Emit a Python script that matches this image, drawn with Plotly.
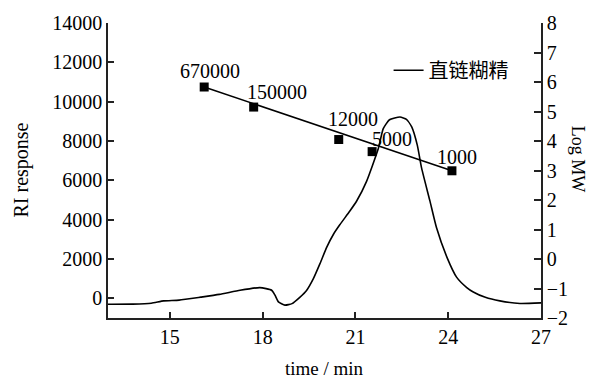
import plotly.graph_objects as go

# ---- data ----
ri_time = [13.0, 13.8, 14.4, 14.8, 15.3, 16.0, 16.6, 17.27, 17.91, 18.29, 18.4,
           18.51, 18.72, 18.95, 19.2, 19.42, 19.64, 19.85, 20.07, 20.29, 20.5,
           20.82, 21.04, 21.36, 21.74, 21.9, 22.1, 22.44, 22.65, 22.82, 23.0,
           23.14, 23.41, 23.62, 23.96, 24.27, 24.6, 24.81, 25.2, 25.67, 26.32, 27.0]
ri_response = [-300, -295, -250, -130, -90, 60, 200, 410, 545, 410, 160,
               -180, -345, -270, 50, 400, 1000, 1750, 2590, 3260, 3750,
               4440, 4950, 5950, 7620, 8630, 9080, 9220, 9100, 8715, 7790,
               6620, 4940, 3600, 2085, 1080, 550, 325, 50, -130, -260, -230]

std_time = [16.11, 17.71, 20.46, 21.54, 24.12]
std_logmw = [5.83, 5.15, 4.05, 3.64, 2.99]
std_labels = ["670000", "150000", "12000", "5000", "1000"]

fit_time = [16.11, 24.12]
fit_logmw = [5.83, 2.99]

legend_name = "直链糊精"

# label offsets in px (style only)
label_dx = [6, 23, 14, 20, 5]
label_dy = [16, 15, 21, 13, 14]

SERIF = "Liberation Serif"
CJK = "Noto Sans CJK SC"
AX = "#222222"

fig = go.Figure()
fig.add_trace(go.Scatter(x=ri_time, y=ri_response, mode="lines", name=legend_name,
                         line=dict(color="black", width=1.6, shape="spline", smoothing=0.5),
                         showlegend=True))
fig.add_trace(go.Scatter(x=fit_time, y=fit_logmw, mode="lines", yaxis="y2",
                         line=dict(color="black", width=1.5), showlegend=False))
fig.add_trace(go.Scatter(x=std_time, y=std_logmw, mode="markers", yaxis="y2",
                         marker=dict(symbol="square", size=9, color="black"),
                         showlegend=False))

annotations = []
for t, v, lab, dx, dy in zip(std_time, std_logmw, std_labels, label_dx, label_dy):
    annotations.append(dict(x=t, y=v, xref="x", yref="y2", text=lab, showarrow=False,
                            xanchor="center", yanchor="middle",
                            xshift=dx, yshift=dy, font=dict(family=SERIF, size=20, color="black")))

annotations += [
    dict(x=0, y=0.5, xref="paper", yref="paper", text="RI response", textangle=-90,
         showarrow=False, xanchor="center", yanchor="middle", xshift=-87,
         font=dict(family=SERIF, size=20, color="black")),
    dict(x=1, y=0.54, xref="paper", yref="paper", text="Log MW", textangle=90,
         showarrow=False, xanchor="center", yanchor="middle", xshift=37,
         font=dict(family=SERIF, size=18, color="black")),
    dict(x=0.5, y=0, xref="paper", yref="paper", text="time / min",
         showarrow=False, xanchor="center", yanchor="middle", yshift=-50,
         font=dict(family=SERIF, size=19, color="black")),
]

fig.update_layout(
    width=589, height=379,
    margin=dict(l=108, r=48, t=20, b=61),
    paper_bgcolor="white", plot_bgcolor="white",
    showlegend=True,
    legend=dict(x=0.648, y=0.84, xanchor="left", yanchor="middle",
                font=dict(family=CJK, size=20, color="black"),
                bgcolor="rgba(0,0,0,0)", borderwidth=0),
    xaxis=dict(range=[13, 27], tickvals=[15, 18, 21, 24, 27], ticks="inside", ticklen=6,
               tickcolor=AX, tickwidth=1.5, showline=True, linecolor=AX, linewidth=1.5,
               showgrid=False, zeroline=False, mirror=False,
               tickfont=dict(family=SERIF, size=20, color="black")),
    yaxis=dict(range=[-1000, 14000], tickvals=list(range(0, 14001, 2000)), tickformat="d",
               ticks="inside", ticklen=6, tickcolor=AX, tickwidth=1.5, showline=True,
               linecolor=AX, linewidth=1.5, showgrid=False, zeroline=False,
               tickfont=dict(family=SERIF, size=20, color="black")),
    yaxis2=dict(range=[-2, 8], tickvals=list(range(-2, 9)), overlaying="y", side="right",
                ticks="inside", ticklen=7, tickcolor=AX, tickwidth=1.5, showline=True,
                linecolor=AX, linewidth=1.5, showgrid=False, zeroline=False,
                tickfont=dict(family=SERIF, size=20, color="black")),
    annotations=annotations,
)

fig.write_html("out.html")
